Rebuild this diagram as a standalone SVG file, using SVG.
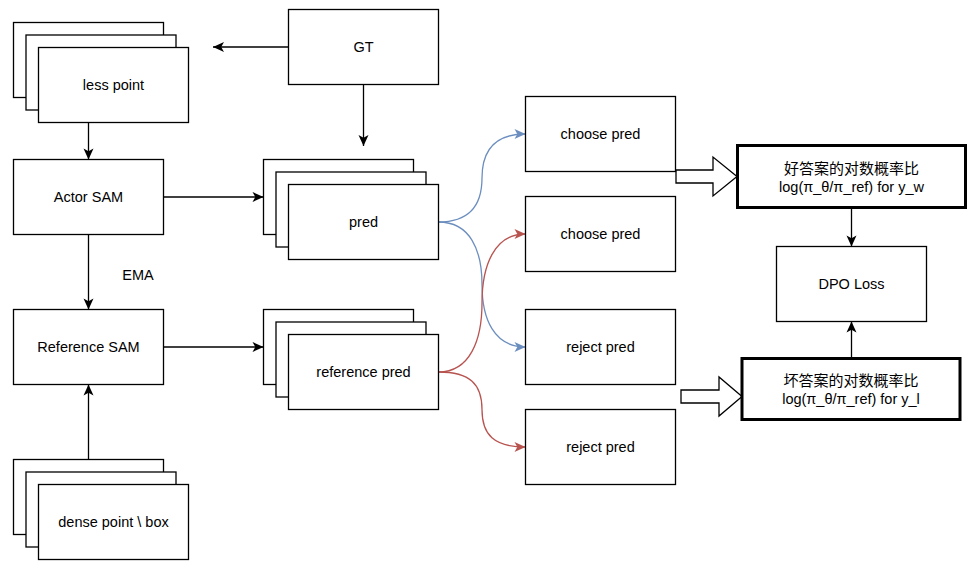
<svg xmlns="http://www.w3.org/2000/svg" width="975" height="570" viewBox="0 0 975 570">
<style>
.box{fill:#fff;stroke:#000;stroke-width:1.3}
.bold{fill:#fff;stroke:#000;stroke-width:3}
.t{font-family:"Liberation Sans","Noto Sans CJK SC",Arial,sans-serif;font-size:14.5px;fill:#000;text-anchor:middle;dominant-baseline:central}
.c{font-size:15px}
.e{fill:none;stroke:#000;stroke-width:1.3}
.blue{fill:none;stroke:#6c8ebf;stroke-width:1.3}
.red{fill:none;stroke:#b85450;stroke-width:1.3}
.hollow{fill:#fff;stroke:#000;stroke-width:1.3}
</style>
<defs>
<marker id="ab" markerUnits="userSpaceOnUse" markerWidth="13" markerHeight="13" viewBox="0 0 13 13" refX="12" refY="6.5" orient="auto">
<path d="M1,1.5 L12,6.5 L1,11.5 L3.8,6.5 z" fill="#000"/>
</marker>
<marker id="abl" markerUnits="userSpaceOnUse" markerWidth="13" markerHeight="13" viewBox="0 0 13 13" refX="12" refY="6.5" orient="auto">
<path d="M1,1.5 L12,6.5 L1,11.5 L3.8,6.5 z" fill="#6c8ebf"/>
</marker>
<marker id="ar" markerUnits="userSpaceOnUse" markerWidth="13" markerHeight="13" viewBox="0 0 13 13" refX="12" refY="6.5" orient="auto">
<path d="M1,1.5 L12,6.5 L1,11.5 L3.8,6.5 z" fill="#b85450"/>
</marker>
</defs>
<rect width="975" height="570" fill="#fff"/>

<g id="connectors">
<path class="e" d="M288.5,47 L213,47" marker-end="url(#ab)"/>
<path class="e" d="M363.5,84.5 L363.5,146" marker-end="url(#ab)"/>
<path class="e" d="M88.5,122.5 L88.5,159.5" marker-end="url(#ab)"/>
<path class="e" d="M163.5,197 L263.5,197" marker-end="url(#ab)"/>
<path class="e" d="M88.5,234.5 L88.5,309.5" marker-end="url(#ab)"/>
<path class="e" d="M163.5,347 L263.5,347" marker-end="url(#ab)"/>
<path class="e" d="M88.5,459.5 L88.5,384.5" marker-end="url(#ab)"/>
<path class="blue" d="M438.5,222 C470,222 482,205 482,178 C482,151 494,134 525.5,134" marker-end="url(#abl)"/>
<path class="blue" d="M438.5,222 C470,222 482,250 482,284.5 C482,319 494,347 525.5,347" marker-end="url(#abl)"/>
<path class="red" d="M438.5,372 C470,372 482,340 482,303 C482,266 494,234 525.5,234" marker-end="url(#ar)"/>
<path class="red" d="M438.5,372 C470,372 482,384 482,409.5 C482,435 494,447 525.5,447" marker-end="url(#ar)"/>
<polygon class="hollow" points="676,170 713,170 713,157 737,176.5 713,196 713,183 676,183"/>
<polygon class="hollow" points="681,390 719,390 719,377 742,396.5 719,416 719,403 681,403"/>
<path class="e" d="M851.5,207.5 L851.5,246.5" marker-end="url(#ab)"/>
<path class="e" d="M851.5,358.5 L851.5,321.5" marker-end="url(#ab)"/>
</g>

<g id="less-point">
<rect class="box" x="13.5" y="22.5" width="150" height="75"/>
<rect class="box" x="26" y="35" width="150" height="75"/>
<rect class="box" x="38.5" y="47.5" width="150" height="75"/>
<text class="t" x="113.5" y="85">less point</text>
</g>
<g id="gt">
<rect class="box" x="288.5" y="9.5" width="150" height="75"/>
<text class="t" x="363.5" y="47">GT</text>
</g>
<g id="actor-sam">
<rect class="box" x="13.5" y="159.5" width="150" height="75"/>
<text class="t" x="88.5" y="197">Actor SAM</text>
</g>
<g id="pred">
<rect class="box" x="263.5" y="159.5" width="150" height="75"/>
<rect class="box" x="276" y="172" width="150" height="75"/>
<rect class="box" x="288.5" y="184.5" width="150" height="75"/>
<text class="t" x="363.5" y="222">pred</text>
</g>
<g id="ema">
<text class="t" x="138" y="275">EMA</text>
</g>
<g id="reference-sam">
<rect class="box" x="13.5" y="309.5" width="150" height="75"/>
<text class="t" x="88.5" y="347">Reference SAM</text>
</g>
<g id="reference-pred">
<rect class="box" x="263.5" y="309.5" width="150" height="75"/>
<rect class="box" x="276" y="322" width="150" height="75"/>
<rect class="box" x="288.5" y="334.5" width="150" height="75"/>
<text class="t" x="363.5" y="372">reference pred</text>
</g>
<g id="dense-point">
<rect class="box" x="13.5" y="459.5" width="150" height="75"/>
<rect class="box" x="26" y="472" width="150" height="75"/>
<rect class="box" x="38.5" y="484.5" width="150" height="75"/>
<text class="t" x="113.5" y="522">dense point \ box</text>
</g>
<g id="choose-pred-1">
<rect class="box" x="525.5" y="96.5" width="150" height="75"/>
<text class="t" x="600.5" y="134">choose pred</text>
</g>
<g id="choose-pred-2">
<rect class="box" x="525.5" y="196.5" width="150" height="75"/>
<text class="t" x="600.5" y="234">choose pred</text>
</g>
<g id="reject-pred-1">
<rect class="box" x="525.5" y="309.5" width="150" height="75"/>
<text class="t" x="600.5" y="347">reject pred</text>
</g>
<g id="reject-pred-2">
<rect class="box" x="525.5" y="409.5" width="150" height="75"/>
<text class="t" x="600.5" y="447">reject pred</text>
</g>
<g id="good-logratio">
<rect class="bold" x="737.5" y="145.5" width="228" height="62"/>
<text class="t c" x="851.5" y="168">好答案的对数概率比</text>
<text class="t" x="851.5" y="186.5">log(π_θ/π_ref) for y_w</text>
</g>
<g id="dpo-loss">
<rect class="box" x="776.5" y="246.5" width="150" height="75"/>
<text class="t" x="851.5" y="284">DPO Loss</text>
</g>
<g id="bad-logratio">
<rect class="bold" x="742" y="358.5" width="218" height="61"/>
<text class="t c" x="851" y="380.5">坏答案的对数概率比</text>
<text class="t" x="851" y="399">log(π_θ/π_ref) for y_l</text>
</g>
</svg>
